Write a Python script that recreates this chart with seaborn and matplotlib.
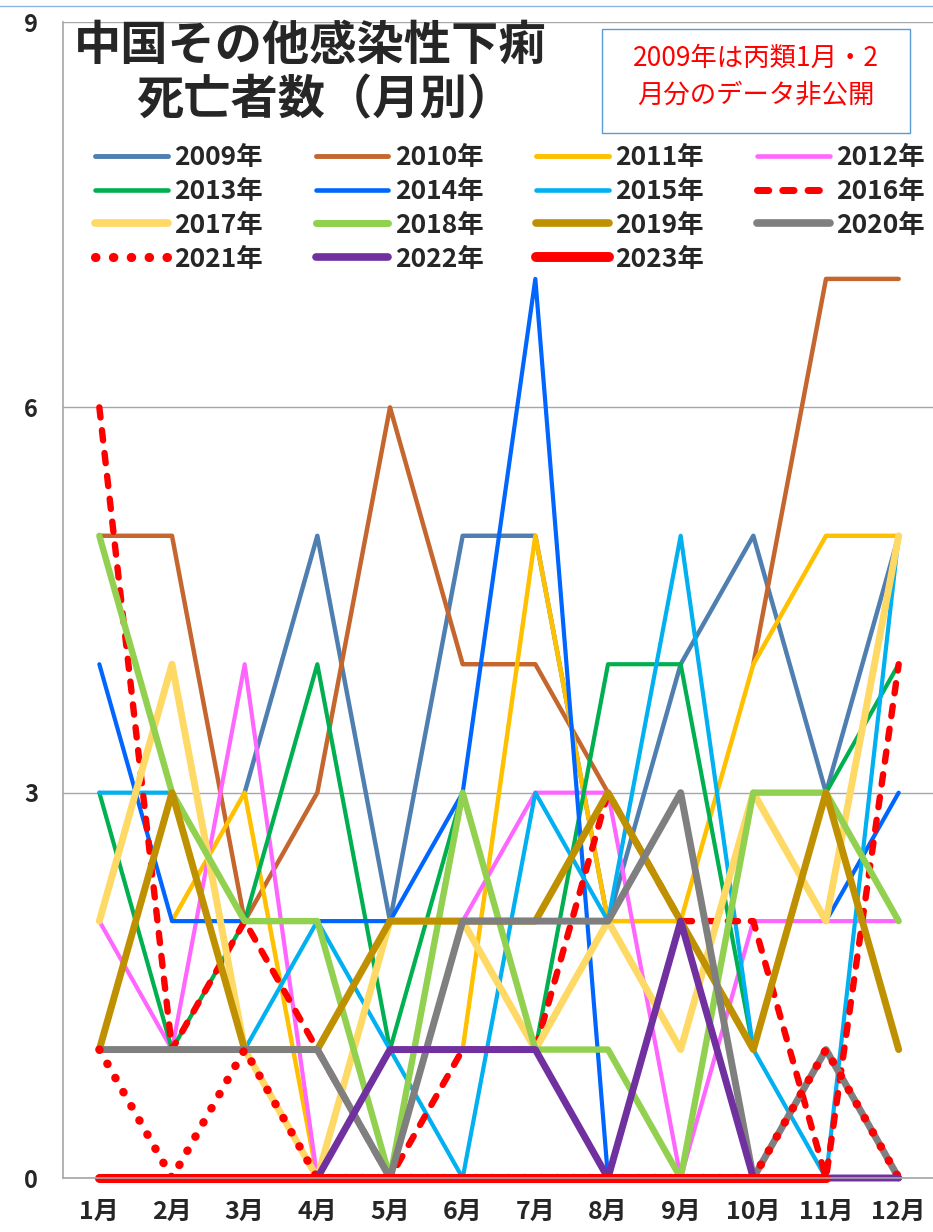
import numpy as np
import pandas as pd
import matplotlib
matplotlib.use("Agg")
import matplotlib.pyplot as plt
from matplotlib.lines import Line2D
from matplotlib.patches import Rectangle
import seaborn as sns

nan = np.nan

# --- data (deaths per month) ---
months = ["1月", "2月", "3月", "4月", "5月", "6月", "7月", "8月", "9月", "10月", "11月", "12月"]
y2009 = [nan, nan, 3, 5, 2, 5, 5, 2, 4, 5, 3, 5]
y2010 = [5, 5, 2, 3, 6, 4, 4, 3, nan, 4, 7, 7]
y2011 = [nan, 2, 3, 0, 1, 1, 5, 2, 2, 4, 5, 5]
y2012 = [2, 1, 4, 0, 0, 2, 3, 3, 0, 2, 2, 2]
y2013 = [3, 1, 2, 4, 1, 3, 1, 4, 4, 1, 3, 4]
y2014 = [4, 2, 2, 2, 2, 3, 7, 0, 0, nan, 2, 3]
y2015 = [3, 3, 1, 2, 1, 0, 3, 2, 5, 1, 0, 5]
y2016 = [6, 1, 2, 1, 0, 1, 1, 3, 2, 2, 0, 4]
y2017 = [2, 4, 1, 0, 2, 2, 1, 2, 1, 3, 2, 5]
y2018 = [5, 3, 2, 2, 0, 3, 1, 1, 0, 3, 3, 2]
y2019 = [1, 3, 1, 1, 2, 2, 2, 3, 2, 1, 3, 1]
y2020 = [1, 1, 1, 1, 0, 2, 2, 2, 3, 0, 1, 0]
y2021 = [1, 0, 1, 0, 0, 0, 0, 0, 0, 0, 1, 0]
y2022 = [0, 0, 0, 0, 1, 1, 1, 0, 2, 0, 0, 0]
y2023 = [0, 0, 0, 0, 0, 0, 0, 0, 0, 0, 0, nan]

years = ["2009年", "2010年", "2011年", "2012年", "2013年", "2014年", "2015年", "2016年",
         "2017年", "2018年", "2019年", "2020年", "2021年", "2022年", "2023年"]
series = [y2009, y2010, y2011, y2012, y2013, y2014, y2015, y2016,
          y2017, y2018, y2019, y2020, y2021, y2022, y2023]

# --- styles ---
colors = ["#4f7fb0", "#c4662e", "#ffc000", "#ff66ff", "#00b050", "#0066ff", "#00b0f0", "#ff0000",
          "#ffd966", "#92d050", "#bf9000", "#7f7f7f", "#ff0000", "#7030a0", "#ff0000"]
widths = [3.2, 3.2, 3.2, 3.0, 3.0, 3.0, 3.0, 4.6,
          5.0, 4.6, 5.0, 5.0, 6.0, 5.0, 6.5]
styles = ["-", "-", "-", "-", "-", "-", "-", (0, (1.6, 2.0)),
          "-", "-", "-", "-", (0, (0.05, 1.9)), "-", "-"]

# long table, split at gaps so missing months are not bridged
rows = []
for yr, vals in zip(years, series):
    seg = pd.Series(vals).isna().cumsum()
    for m, v, g in zip(range(1, 13), vals, seg):
        rows.append({"year": yr, "month": m, "deaths": v, "seg": g})
df = pd.DataFrame(rows).dropna()

sns.set_style("white")
plt.rcParams["font.family"] = ["Noto Sans CJK JP", "DejaVu Sans"]

fig = plt.figure(figsize=(9.33, 12.32), dpi=100)
ax = fig.add_axes([63 / 933, 54 / 1232, 872 / 933, 1156 / 1232])

for yr, c, lw, ls in zip(years, colors, widths, styles):
    sub = df[df["year"] == yr]
    sns.lineplot(data=sub, x="month", y="deaths", units="seg", estimator=None,
                 color=c, linewidth=lw, linestyle=ls, ax=ax, legend=False,
                 clip_on=False, solid_capstyle="round", dash_capstyle="round",
                 solid_joinstyle="round")

ax.set_xlim(0.5, 12.5)
ax.set_ylim(0, 9)
ax.set_xlabel("")
ax.set_ylabel("")
ax.set_xticks(range(1, 13))
ax.set_xticklabels(months, fontsize=18, fontweight="bold")
ax.set_yticks([0, 3, 6, 9])
ax.set_yticklabels(["0", "3", "6", "9"], fontsize=17, fontweight="bold")
ax.tick_params(axis="x", length=0, pad=16)
ax.tick_params(axis="y", length=0, pad=18)
ax.yaxis.grid(True, color="#a6a6a6", linewidth=1)
ax.xaxis.grid(False)
ax.set_axisbelow(True)
for side in ["top", "right"]:
    ax.spines[side].set_visible(False)
for side in ["left", "bottom"]:
    ax.spines[side].set_color("#a6a6a6")
    ax.spines[side].set_linewidth(1.2)

# legend, row-major order in 4 columns
handles = [Line2D([], [], color=c, linewidth=lw * 1.1, linestyle=ls,
                  solid_capstyle="round", dash_capstyle="round")
           for c, lw, ls in zip(colors, widths, styles)]
order = [i for k in range(4) for i in range(k, len(years), 4)]
ax.legend([handles[i] for i in order], [years[i] for i in order], ncol=4,
          loc="upper left", bbox_to_anchor=(95 / 933, 1 - 144 / 1232),
          bbox_transform=fig.transFigure, frameon=False,
          handlelength=2.75, handletextpad=0.25, columnspacing=2.0,
          labelspacing=0.26, borderpad=0, borderaxespad=0,
          prop={"weight": "bold", "size": 19})

# title
fig.text(310 / 933, 1 - 46 / 1232, "中国その他感染性下痢", ha="center", va="center",
         fontsize=34, fontweight="bold")
fig.text(325 / 933, 1 - 100 / 1232, "死亡者数（月別）", ha="center", va="center",
         fontsize=34, fontweight="bold")

# note box
fig.add_artist(Rectangle((602 / 933, 1 - 133 / 1232), 308 / 933, 104 / 1232,
                         transform=fig.transFigure, facecolor="white",
                         edgecolor="#5b9bd5", linewidth=1))
fig.text(756 / 933, 1 - 58 / 1232, "2009年は丙類1月・2", ha="center", va="center",
         fontsize=19, color="#ff0000")
fig.text(756 / 933, 1 - 95 / 1232, "月分のデータ非公開", ha="center", va="center",
         fontsize=19, color="#ff0000")

# chart area top edge
fig.add_artist(Line2D([0, 1], [1 - 6 / 1232, 1 - 6 / 1232], transform=fig.transFigure,
                      color="#8eb4e3", linewidth=1))

fig.savefig("out.png", dpi=100)
